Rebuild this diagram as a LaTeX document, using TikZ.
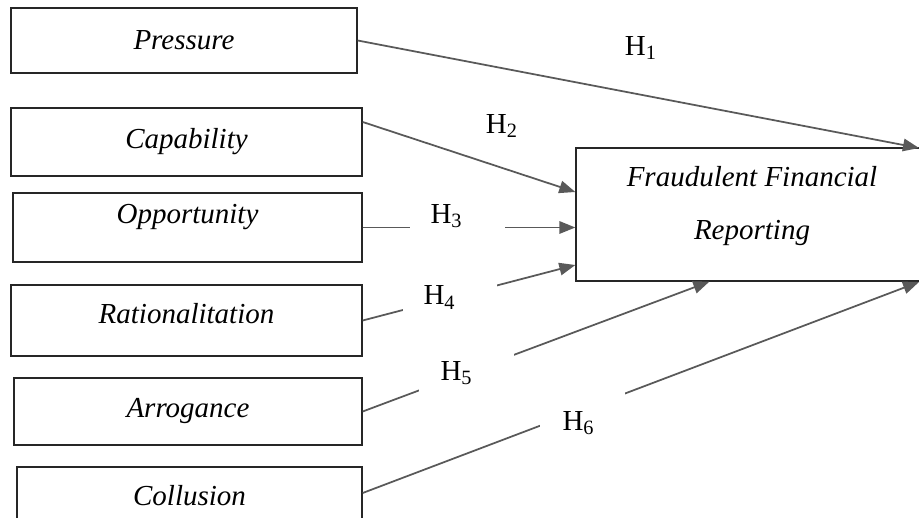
\documentclass[tikz,border=0pt]{standalone}
\usepackage{fontspec}
\setmainfont{Liberation Serif}
\usetikzlibrary{positioning, calc, arrows.meta}
\definecolor{linegray}{HTML}{595959}

\begin{document}
\begin{tikzpicture}[
        x=0.4pt, y=-0.4pt,
        font=\fontsize{11.6}{14}\selectfont,
        factor/.style={rectangle, draw=black!85, line width=0.55pt, minimum width=140.4pt, minimum height=27.2pt, font=\fontsize{11.6}{14}\selectfont\itshape},
        outcome/.style={rectangle, draw=black!85, line width=0.55pt, minimum width=140.8pt, minimum height=53.2pt, align=center, font=\fontsize{11.6}{21.2}\selectfont\itshape},
        hyp/.style={inner sep=1pt},
        gaplabel/.style={fill=white, anchor=west, align=left, inner ysep=0pt},
        arrow/.style={-{Triangle[length=6.4pt, width=5pt]}, draw=linegray, fill=linegray, line width=0.7pt}
    ]
        \clip (0,0) rectangle (919,518);

        % Nodes
        \node [factor, minimum width=138.4pt, minimum height=26pt] (pressure) at (184,40.5) {Pressure};
        \node [factor] (capability) at (186.5,142) {Capability};
        \node [factor, minimum width=139.6pt, minimum height=27.6pt, text depth=10.5pt] (opportunity) at (187.5,227.5) {Opportunity};
        \node [factor, minimum height=28.4pt, text depth=5.8pt] (rational) at (186.5,320.5) {Rationalitation};
        \node [factor, minimum width=139.2pt, minimum height=26.8pt] (arrogance) at (188,411.5) {Arrogance};
        \node [factor, minimum width=138pt, text depth=4.8pt] (collusion) at (189.5,501) {Collusion};

        \node [outcome, text depth=8.9pt] (ffr) at (752,214.5) {Fraudulent Financial\\Reporting};

        \coordinate (h1tip) at (919,148);
        \coordinate (h6tip) at (919,282);

        % Edges
        \draw [arrow] (pressure.east) -- (h1tip);
        \draw [arrow] ($(capability.east)+(0,-20)$) -- ($(ffr.west)+(0,-22.5)$);
        \draw [arrow] (opportunity.east) -- (opportunity.east -| ffr.west);
        \draw [arrow] (rational.east) -- ($(ffr.west)+(0,50.5)$);
        \draw [arrow] (arrogance.east) -- ($(ffr.south west)+(134,0)$);
        \draw [arrow] ($(collusion.east)+(0,-8)$) -- (h6tip);

        % Labels
        \node [hyp] (h1) at (641,48) {H\textsubscript{1}};
        \node [hyp] (h2) at (502,126) {H\textsubscript{2}};
        \node [gaplabel, text width=21.2pt, inner xsep=8.4pt, minimum height=12.8pt] (h3) at (409,216) {H\textsubscript{3}};
        \node [gaplabel, text width=20.8pt, inner xsep=8.4pt, minimum height=12.4pt] (h4) at (402,297.5) {H\textsubscript{4}};
        \node [gaplabel, text width=20.4pt, inner xsep=8.8pt, minimum height=16.8pt] (h5) at (418,373) {H\textsubscript{5}};
        \node [gaplabel, text width=15.6pt, inner xsep=9.2pt, minimum height=25.6pt] (h6) at (539,423) {H\textsubscript{6}};

    \end{tikzpicture}
\end{document}
